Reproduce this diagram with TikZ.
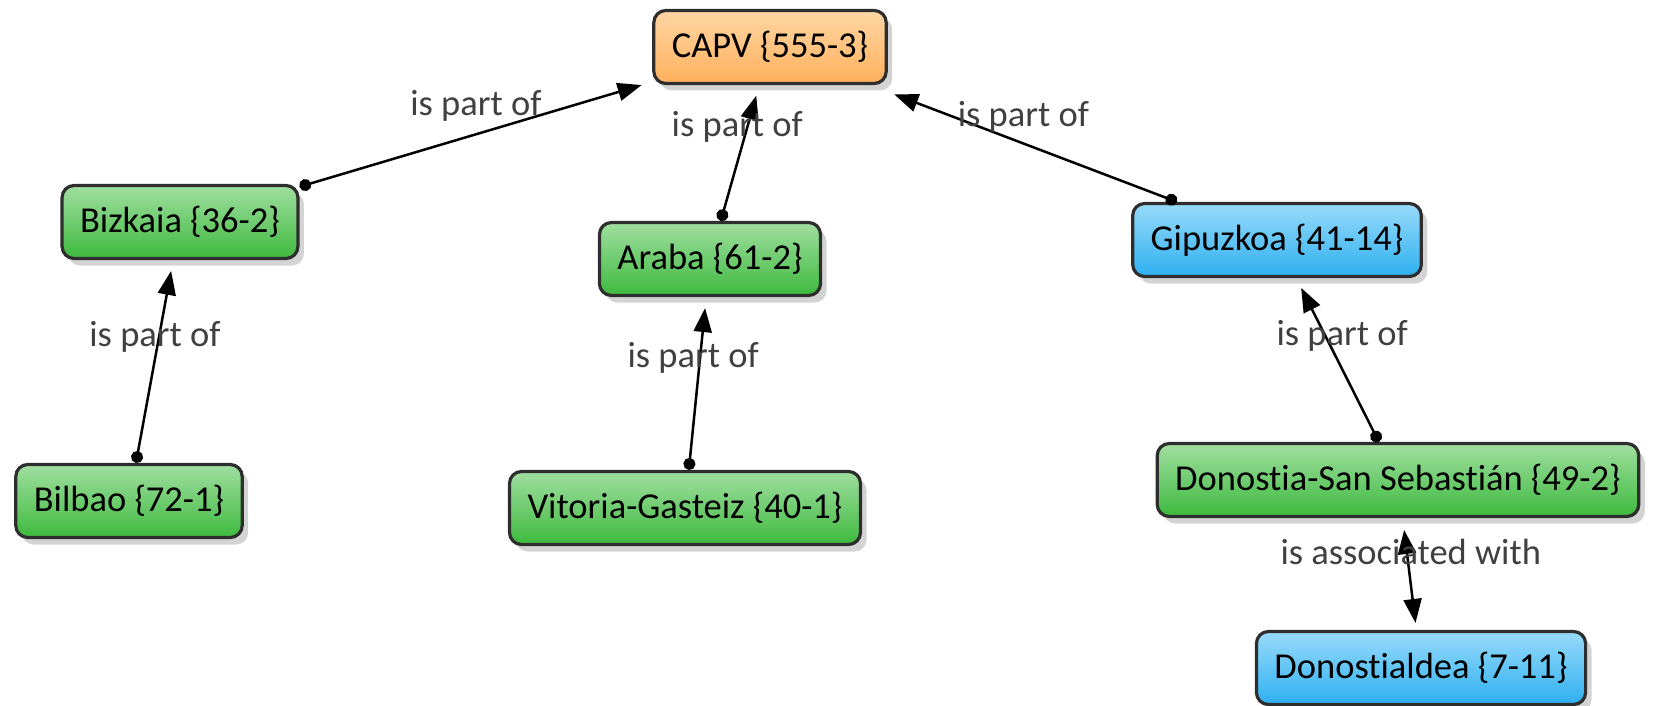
\documentclass[tikz,border=0pt]{standalone}
\usepackage{fontspec}
\setmainfont{Carlito}[Ligatures={NoCommon,NoContextual}]
\usetikzlibrary{arrows.meta,shadows}

\definecolor{greentop}{RGB}{160,222,160}
\definecolor{greenbot}{RGB}{62,186,62}
\definecolor{bluetop}{RGB}{152,218,250}
\definecolor{bluebot}{RGB}{46,176,240}
\definecolor{orangetop}{RGB}{255,214,164}
\definecolor{orangebot}{RGB}{255,176,92}

\begin{document}
\begin{tikzpicture}[x=1pt, y=1pt, font=\fontsize{36.5}{40}\selectfont,
	concept/.style={rectangle, rounded corners=12pt, draw=black!82, line width=3.2pt,
		minimum height=73pt, inner xsep=18pt, inner ysep=4pt,
		drop shadow={shadow xshift=6pt, shadow yshift=-7pt, opacity=0.35}},
	greenbox/.style={concept, top color=greentop, bottom color=greenbot},
	bluebox/.style={concept, top color=bluetop, bottom color=bluebot},
	orangebox/.style={concept, top color=orangetop, bottom color=orangebot},
	link/.style={line width=2.5pt, {Circle[length=12pt]}-{Triangle[length=24pt,width=18pt]}, shorten >=11pt},
	assoc/.style={line width=2.5pt, {Triangle[length=24pt,width=18pt]}-{Triangle[length=24pt,width=18pt]}, shorten <=12pt, shorten >=7pt},
	lbl/.style={inner sep=0pt, text=black!75}]
	\useasboundingbox (0,0) rectangle (1669,-706);

	% Nodes {capv, provinces, towns}
	\node [orangebox]	(capv)	at (770,-47)	{CAPV \{555-3\}};
	\node [greenbox]	(bizkaia)	[below of=capv, node distance=175pt, xshift=-590pt]	{Bizkaia \{36-2\}};
	\node [greenbox]	(araba)	[below of=capv, node distance=212pt, xshift=-60pt]	{Araba \{61-2\}};
	\node [bluebox]	(gipuzkoa)	[below of=capv, node distance=193pt, xshift=507pt]	{Gipuzkoa \{41-14\}};
	\node [greenbox]	(bilbao)	[below of=bizkaia, node distance=279pt, xshift=-51pt]	{Bilbao \{72-1\}};
	\node [greenbox]	(vitoria)	[below of=araba, node distance=249pt, xshift=-25pt]	{Vitoria-Gasteiz \{40-1\}};
	\node [greenbox]	(donostia)	[below of=gipuzkoa, node distance=240pt, xshift=121pt]	{Donostia-San Sebastián \{49-2\}};
	\node [bluebox]	(donostialdea)	[below of=donostia, node distance=188pt, xshift=23pt]	{Donostialdea \{7-11\}};

	% Paths
	\path [link]	(bizkaia) edge	node [lbl, yshift=28pt]	{is part of}	(capv);
	\path [link]	(araba) edge	node [lbl, pos=.69, xshift=-10pt]	{is part of}	(capv);
	\path [link, shorten >=26pt]	(gipuzkoa) edge	node [lbl, yshift=27pt]	{is part of}	(capv);
	\path [link]	(bilbao) edge	node [lbl, pos=.62, xshift=-4pt]	{is part of}	(bizkaia);
	\path [link]	(vitoria) edge	node [lbl, pos=.65, xshift=-7pt]	{is part of}	(araba);
	\path [link]	(donostia) edge	node [lbl, pos=.65, xshift=17pt]	{is part of}	(gipuzkoa);
	\path [assoc]	(donostia) edge	node [lbl, pos=.3, xshift=4pt]	{is associated with}	(donostialdea);

\end{tikzpicture}
\end{document}
